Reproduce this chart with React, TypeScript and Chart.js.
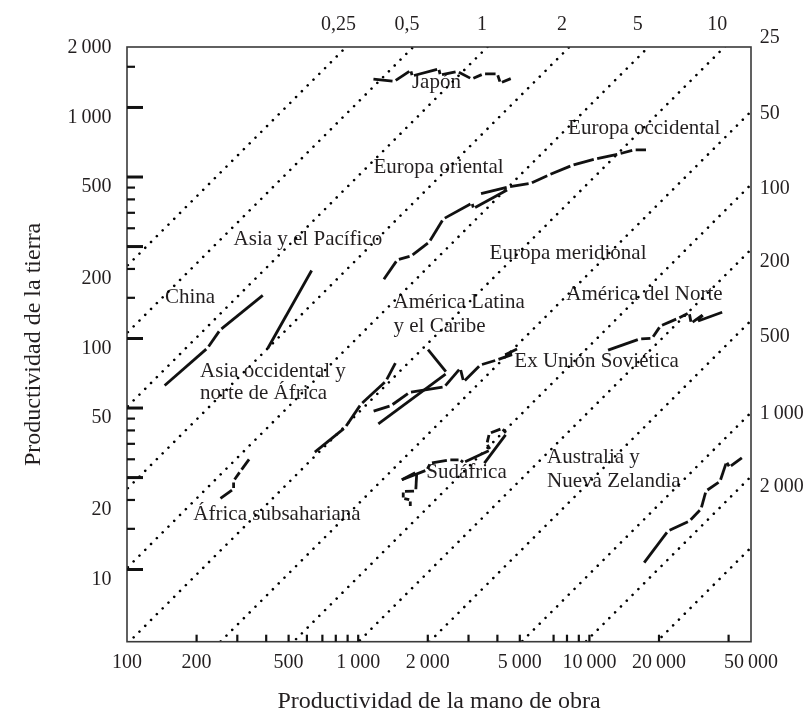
import React, { useEffect, useRef } from 'react';
import { Chart, registerables } from 'chart.js';

Chart.register(...registerables);

const FONT = "'Liberation Serif', 'Times New Roman', Times, serif";
const INK = '#231f20';

// Axis bounds
const X_MIN = 100;
const X_MAX = 50000;
const Y_MIN = 4.87;
const Y_MAX = 1827;

// Axis labels and tick marks
const xTickLabels = [100, 200, 500, 1000, 2000, 5000, 10000, 20000, 50000];
const yTickLabels = [10, 20, 50, 100, 200, 500, 1000, 2000];
const xTickMarks = [200, 300, 400, 500, 600, 700, 800, 900, 1000, 2000, 3000, 4000, 5000, 7000, 8000, 9000, 10000, 20000, 40000];
const yMajorTicks = [10, 25, 50, 100, 250, 500, 1000];
const yMinorTicks = [15, 20, 30, 35, 40, 45, 150, 200, 300, 350, 400, 450, 1500];

// Regional trajectories (labour productivity, land productivity)
const japanX = [1144, 1432, 1688, 1713, 2231, 2265, 2683, 3099, 3477, 3997, 4119, 4642];
const japanY = [1329, 1297, 1446, 1369, 1468, 1383, 1432, 1329, 1397, 1397, 1277, 1342];
const europaOrientalX = [1279, 1475, 1696, 2029, 2333, 3106, 3156, 4473];
const europaOrientalY = [177.9, 218.8, 227.6, 261.7, 329.2, 384.9, 366.2, 442.5];
const europaOccidentalX = [3341, 4462, 5553, 6678, 8400, 10620, 13420, 15580, 17880];
const europaOccidentalY = [422.2, 452.7, 468.9, 510.3, 561.2, 598.7, 629.2, 654.7, 654.7];
const chinaX = [143.6, 223.1, 252.7, 391.8];
const chinaY = [61.84, 90.97, 108.9, 155.4];
const asiaPacificoX = [402.5, 634.2];
const asiaPacificoY = [89.13, 200.0];
const africaSubX = [250.2, 288.5, 289.1, 309.9, 340.7];
const africaSubY = [20.1, 22.31, 24.17, 26.7, 30.39];
const asiaOccX = [640.5, 878.4, 1028, 1319, 1460];
const asiaOccY = [31.84, 41.19, 51.95, 65.47, 79.37];
const latamX = [1205, 2421, 1983];
const latamY = [42.22, 70.91, 90.7];
const ussrX = [1147, 1389, 1663, 2357, 2764, 2856, 3374, 3978, 4702, 4256, 4942];
const ussrY = [48.21, 51.27, 58.38, 61.69, 74.32, 65.02, 76.8, 80.72, 85.7, 84.43, 90.7];
const sudafricaX = [1691, 1680, 1566, 1566, 1774, 1792, 1520, 1983, 2050, 2460, 2764, 2856, 3728, 3601, 3691, 4189, 4385, 3477];
const sudafricaY = [18.75, 20.0, 20.3, 21.77, 21.87, 26.43, 24.3, 26.97, 28.83, 29.8, 29.8, 29.06, 32.92, 34.94, 38.81, 40.77, 38.81, 28.48];
const australiaX = [17080, 21870, 27100, 30390, 31940, 36730, 39180, 40370, 46290];
const australiaY = [10.57, 14.68, 16.22, 18.28, 21.87, 24.05, 29.2, 27.79, 30.78];
const norteX = [11850, 16460, 18680, 20290, 24120, 27020, 27560, 31250, 29050, 38140];
const norteY = [88.56, 99.52, 100.3, 113.3, 122.1, 129.4, 116.4, 127.6, 118.3, 130.7];

// Iso land/labour ratio lines (x / y) and their labels
const isoRatios = [0.4855, 0.9467, 1.98, 4.482, 9.852, 21.01, 52.05, 107.8, 206, 418.1, 1046, 1979, 4017];
const isoTopLabels = ['0,25', '0,5', '1', '2', '5', '10'];
const isoTopLabelX = [821.6, 1625, 3432, 7617, 16190, 35710];
const isoTopLabelY = 2276;
const isoRightLabels = ['25', '50', '100', '200', '500', '1\u2009000', '2\u2009000'];
const isoRightLabelY = [1994, 943.9, 446.9, 215.0, 101.8, 47.46, 22.83];
const isoRightLabelX = 54600;

// Region names
const regionNames = ['Japón', 'Europa occidental', 'Europa oriental', 'Europa meridional', 'Asia y el Pacífico', 'China', 'América Latina', 'y el Caribe', 'América del Norte', 'Asia occidental y', 'norte de África', 'Ex Unión Soviética', 'Sudáfrica', 'Australia y', 'Nueva Zelandia', 'África subsahariana'];
const regionNameX = [1708, 8087, 1165, 3702, 289, 146, 1422, 1422, 7950, 207, 207, 4735, 1970, 6561, 6561, 193.6];
const regionNameY = [1215, 768, 519, 221, 254, 143, 135, 107, 147, 68.3, 54.6, 74.9, 24.8, 28.8, 22.8, 16.4];

const trajectories = [
  { x: japanX, y: japanY },
  { x: europaOrientalX, y: europaOrientalY },
  { x: europaOccidentalX, y: europaOccidentalY },
  { x: chinaX, y: chinaY },
  { x: asiaPacificoX, y: asiaPacificoY },
  { x: africaSubX, y: africaSubY },
  { x: asiaOccX, y: asiaOccY },
  { x: latamX, y: latamY },
  { x: ussrX, y: ussrY },
  { x: sudafricaX, y: sudafricaY },
  { x: australiaX, y: australiaY },
  { x: norteX, y: norteY },
];

const fmt = (v: number) => {
  const s = String(v);
  return v >= 1000 ? s.replace(/\B(?=(\d{3})+(?!\d))/g, '\u2009') : s;
};

const segLen = (ctx: any) => Math.hypot(ctx.p1.x - ctx.p0.x, ctx.p1.y - ctx.p0.y);
const gapOf = (L: number) => Math.min(3.5, L * 0.3);

const decorPlugin = {
  id: 'decor',
  beforeDatasetsDraw(chart: any) {
    const { ctx, scales } = chart;
    const xs = scales.x;
    const ys = scales.y;
    ctx.save();
    ctx.fillStyle = INK;
    ctx.font = `21px ${FONT}`;
    ctx.textAlign = 'left';
    ctx.textBaseline = 'alphabetic';
    regionNames.forEach((t, i) => {
      ctx.fillText(t, xs.getPixelForValue(regionNameX[i]), ys.getPixelForValue(regionNameY[i]));
    });
    ctx.restore();
  },
  afterDraw(chart: any) {
    const { ctx, chartArea: a, scales } = chart;
    const xs = scales.x;
    const ys = scales.y;
    ctx.save();
    // frame
    ctx.strokeStyle = '#3a3a3a';
    ctx.lineWidth = 1.6;
    ctx.strokeRect(a.left, a.top, a.right - a.left, a.bottom - a.top);
    // y tick marks
    ctx.strokeStyle = '#111';
    ctx.lineCap = 'butt';
    ctx.lineWidth = 3;
    yMajorTicks.forEach((v) => {
      const p = ys.getPixelForValue(v);
      ctx.beginPath();
      ctx.moveTo(a.left, p);
      ctx.lineTo(a.left + 16, p);
      ctx.stroke();
    });
    ctx.lineWidth = 2.2;
    yMinorTicks.forEach((v) => {
      const p = ys.getPixelForValue(v);
      ctx.beginPath();
      ctx.moveTo(a.left, p);
      ctx.lineTo(a.left + 8, p);
      ctx.stroke();
    });
    xTickMarks.forEach((v) => {
      const p = xs.getPixelForValue(v);
      ctx.beginPath();
      ctx.moveTo(p, a.bottom);
      ctx.lineTo(p, a.bottom - 7);
      ctx.stroke();
    });
    // iso line labels
    ctx.fillStyle = INK;
    ctx.font = `20px ${FONT}`;
    ctx.textBaseline = 'middle';
    ctx.textAlign = 'center';
    isoTopLabels.forEach((t, i) => {
      ctx.fillText(t, xs.getPixelForValue(isoTopLabelX[i]), ys.getPixelForValue(isoTopLabelY));
    });
    ctx.textAlign = 'left';
    isoRightLabels.forEach((t, i) => {
      ctx.fillText(t, xs.getPixelForValue(isoRightLabelX), ys.getPixelForValue(isoRightLabelY[i]));
    });
    ctx.restore();
  },
};

export default function App() {
  const ref = useRef<HTMLCanvasElement | null>(null);

  useEffect(() => {
    if (!ref.current) return;
    const trajSets = trajectories.map((s) => ({
      data: s.x.map((x, i) => ({ x, y: s.y[i] })),
      showLine: true,
      borderColor: '#111',
      borderWidth: 2.8,
      pointRadius: 0,
      fill: false,
      segment: {
        borderDash: (c: any) => {
          const L = segLen(c);
          const g = gapOf(L);
          return [Math.max(L - g, 0.1), g];
        },
        borderDashOffset: (c: any) => {
          const L = segLen(c);
          return L - gapOf(L) / 2;
        },
      },
    }));
    const isoSets = isoRatios.map((k) => ({
      data: [
        { x: 10, y: 10 / k },
        { x: 1e6, y: 1e6 / k },
      ],
      showLine: true,
      borderColor: '#000',
      borderWidth: 2.6,
      borderDash: [0.001, 8.2],
      borderCapStyle: 'round' as const,
      pointRadius: 0,
      fill: false,
    }));

    const chart = new Chart(ref.current, {
      type: 'scatter',
      data: { datasets: [...trajSets, ...isoSets] as any },
      options: {
        animation: false,
        responsive: false,
        devicePixelRatio: 1,
        layout: { padding: { left: 0, top: 47, right: 53, bottom: 0 } },
        plugins: { legend: { display: false }, tooltip: { enabled: false } },
        scales: {
          x: {
            type: 'logarithmic',
            position: 'bottom',
            min: X_MIN,
            max: X_MAX,
            grid: { display: false, drawTicks: false },
            border: { display: false },
            afterBuildTicks: (s: any) => {
              s.ticks = xTickLabels.map((v) => ({ value: v }));
            },
            afterFit: (s: any) => {
              s.height = 71.3;
            },
            ticks: {
              autoSkip: false,
              maxRotation: 0,
              minRotation: 0,
              padding: 9,
              color: INK,
              font: { family: FONT, size: 20 },
              callback: (v: any) => fmt(Number(v)),
            },
            title: {
              display: true,
              text: 'Productividad de la mano de obra',
              color: INK,
              font: { family: FONT, size: 24, lineHeight: 1 },
              padding: { top: 0, bottom: -1 },
            },
          },
          y: {
            type: 'logarithmic',
            position: 'left',
            min: Y_MIN,
            max: Y_MAX,
            grid: { display: false, drawTicks: false },
            border: { display: false },
            afterBuildTicks: (s: any) => {
              s.ticks = yTickLabels.map((v) => ({ value: v }));
            },
            afterFit: (s: any) => {
              s.width = 127;
            },
            ticks: {
              autoSkip: false,
              padding: 15.5,
              labelOffset: 10,
              color: INK,
              font: { family: FONT, size: 20 },
              callback: (v: any) => fmt(Number(v)),
            },
            title: {
              display: true,
              text: 'Productividad de la tierra',
              color: INK,
              font: { family: FONT, size: 24, lineHeight: 1 },
              padding: { top: 22, bottom: 0 },
            },
          },
        },
      },
      plugins: [decorPlugin],
    });
    return () => chart.destroy();
  }, []);

  return (
    <div style={{ position: 'fixed', left: 0, top: 0, width: 804, height: 713, background: '#fff' }}>
      <canvas ref={ref} width={804} height={713} style={{ display: 'block', width: 804, height: 713 }} />
    </div>
  );
}
